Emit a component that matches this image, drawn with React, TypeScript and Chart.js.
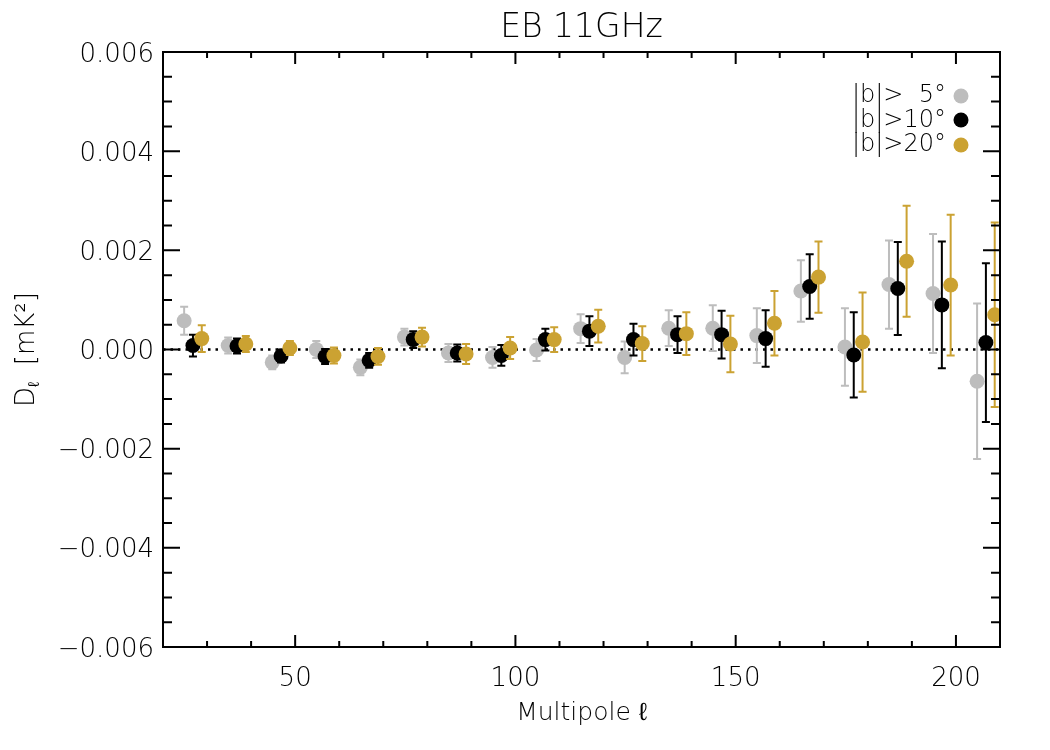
import { useEffect, useRef } from "react";
import { Chart, registerables } from "chart.js";

Chart.register(...registerables);

// multipole bin positions for each latitude cut (slightly offset within a bin)
const ellCut5 = [24.8, 34.8, 44.8, 54.8, 64.8, 74.8, 84.8, 94.8, 104.8, 114.8, 124.8, 134.8, 144.8, 154.8, 164.8, 174.8, 184.8, 194.8, 204.8];
const ellCut10 = [26.8, 36.8, 46.8, 56.8, 66.8, 76.8, 86.8, 96.8, 106.8, 116.8, 126.8, 136.8, 146.8, 156.8, 166.8, 176.8, 186.8, 196.8, 206.8];
const ellCut20 = [28.8, 38.8, 48.8, 58.8, 68.8, 78.8, 88.8, 98.8, 108.8, 118.8, 128.8, 138.8, 148.8, 158.8, 168.8, 178.8, 188.8, 198.8, 208.8];

// D_ell EB [mK^2]
const dCut5 = [0.00058, 0.00008, -0.00026, 0.0, -0.00036, 0.00025, -0.00007, -0.00016, -0.00001, 0.00042, -0.00016, 0.00043, 0.00043, 0.00028, 0.00118, 0.00005, 0.00131, 0.00113, -0.00064];
const errCut5 = [0.00028, 0.00016, 0.00014, 0.00017, 0.00016, 0.00017, 0.00018, 0.00021, 0.00022, 0.00029, 0.00032, 0.00036, 0.00046, 0.00055, 0.00062, 0.00078, 0.00089, 0.0012, 0.00157];

const dCut10 = [0.00008, 0.00007, -0.00013, -0.00014, -0.00022, 0.0002, -0.00007, -0.00012, 0.0002, 0.00037, 0.0002, 0.0003, 0.0003, 0.00022, 0.00127, -0.00011, 0.00123, 0.0009, 0.00014];
const errCut10 = [0.00022, 0.00015, 0.00013, 0.00015, 0.00015, 0.00017, 0.00017, 0.00021, 0.00022, 0.0003, 0.00032, 0.00037, 0.00048, 0.00057, 0.00065, 0.00086, 0.00094, 0.00128, 0.0016];

const dCut20 = [0.00022, 0.00011, 0.00003, -0.00012, -0.00014, 0.00025, -0.00009, 0.00003, 0.0002, 0.00047, 0.00012, 0.00032, 0.00011, 0.00053, 0.00146, 0.00015, 0.00178, 0.0013, 0.0007];
const errCut20 = [0.00027, 0.00016, 0.00014, 0.00016, 0.00017, 0.00019, 0.0002, 0.00022, 0.00025, 0.00033, 0.00035, 0.00043, 0.00057, 0.00065, 0.00072, 0.001, 0.00112, 0.00142, 0.00186];

const xTickValues = [50, 100, 150, 200];
const xTickLabels = ["50", "100", "150", "200"];
const yTickValues = [-0.006, -0.004, -0.002, 0, 0.002, 0.004, 0.006];
const yTickLabels = ["\u22120.006", "\u22120.004", "\u22120.002", "0.000", "0.002", "0.004", "0.006"];

const legendLabels = ["|b|>\u20075\u00b0", "|b|>10\u00b0", "|b|>20\u00b0"];

const GREY = "#bdbdbd";
const BLACK = "#000000";
const GOLD = "#cba232";
const FONT = '"DejaVu Sans", sans-serif';
const W = "200";

const series = [
  { ell: ellCut5, d: dCut5, err: errCut5, color: GREY, order: 3 },
  { ell: ellCut10, d: dCut10, err: errCut10, color: BLACK, order: 2 },
  { ell: ellCut20, d: dCut20, err: errCut20, color: GOLD, order: 1 },
];

const errorBars = {
  id: "errorBars",
  beforeDatasetDraw(chart: any, args: any) {
    const s = series[args.index];
    if (!s) return;
    const { ctx } = chart;
    const xs = chart.scales.x;
    const ys = chart.scales.y;
    ctx.save();
    ctx.strokeStyle = s.color;
    ctx.lineWidth = 2;
    s.ell.forEach((l, i) => {
      const px = xs.getPixelForValue(l);
      const top = ys.getPixelForValue(s.d[i] + s.err[i]);
      const bot = ys.getPixelForValue(s.d[i] - s.err[i]);
      ctx.beginPath();
      ctx.moveTo(px, top);
      ctx.lineTo(px, bot);
      ctx.moveTo(px - 4, top);
      ctx.lineTo(px + 4, top);
      ctx.moveTo(px - 4, bot);
      ctx.lineTo(px + 4, bot);
      ctx.stroke();
    });
    ctx.restore();
  },
  beforeDatasetsDraw(chart: any) {
    const { ctx, chartArea: a } = chart;
    const y0 = chart.scales.y.getPixelForValue(0);
    ctx.save();
    ctx.strokeStyle = "#000";
    ctx.lineWidth = 2.5;
    ctx.setLineDash([2.5, 5]);
    ctx.beginPath();
    ctx.moveTo(a.left, y0);
    ctx.lineTo(a.right, y0);
    ctx.stroke();
    ctx.restore();
  },
};

const frameAndText = {
  id: "frameAndText",
  afterDraw(chart: any) {
    const { ctx, chartArea: a } = chart;
    const xs = chart.scales.x;
    const ys = chart.scales.y;
    ctx.save();
    ctx.strokeStyle = "#000";
    ctx.fillStyle = "#000";
    ctx.lineWidth = 2;
    ctx.strokeRect(a.left, a.top, a.right - a.left, a.bottom - a.top);

    // inward ticks on all four sides
    ctx.beginPath();
    for (let l = 20; l <= 210; l += 10) {
      const px = xs.getPixelForValue(l);
      const len = l % 50 === 0 ? 12 : 6;
      ctx.moveTo(px, a.bottom);
      ctx.lineTo(px, a.bottom - len);
      ctx.moveTo(px, a.top);
      ctx.lineTo(px, a.top + len);
    }
    for (let k = -12; k <= 12; k++) {
      const py = ys.getPixelForValue(k * 0.0005);
      const len = k % 4 === 0 ? 17 : 9;
      ctx.moveTo(a.left, py);
      ctx.lineTo(a.left + len, py);
      ctx.moveTo(a.right, py);
      ctx.lineTo(a.right - len, py);
    }
    ctx.stroke();

    // tick labels
    ctx.font = `${W} 26px ${FONT}`;
    ctx.textBaseline = "alphabetic";
    ctx.textAlign = "center";
    xTickValues.forEach((v, i) => {
      ctx.fillText(xTickLabels[i], xs.getPixelForValue(v), 686);
    });
    ctx.textAlign = "right";
    yTickValues.forEach((v, i) => {
      ctx.fillText(yTickLabels[i], a.left - 9, ys.getPixelForValue(v) + 9.5);
    });

    // titles
    const cx = (a.left + a.right) / 2;
    ctx.textAlign = "center";
    ctx.font = `${W} 33px ${FONT}`;
    ctx.fillText("EB 11GHz", cx, 37);
    ctx.font = `${W} 25px ${FONT}`;
    ctx.fillText("Multipole \u2113", cx, 720);

    // y axis title: D_l [mK^2]
    ctx.save();
    ctx.translate(34, (a.top + a.bottom) / 2);
    ctx.rotate(-Math.PI / 2);
    ctx.textAlign = "left";
    const big = `${W} 26px ${FONT}`;
    const small = `${W} 16px ${FONT}`;
    ctx.font = big;
    const wD = ctx.measureText("D").width;
    const wRest = ctx.measureText("  [mK\u00b2]").width;
    ctx.font = small;
    const wL = ctx.measureText("\u2113").width;
    let x0 = -(wD + wL + wRest) / 2;
    ctx.font = big;
    ctx.fillText("D", x0, 0);
    x0 += wD;
    ctx.font = small;
    ctx.fillText("\u2113", x0, 5);
    x0 += wL;
    ctx.font = big;
    ctx.fillText("  [mK\u00b2]", x0, 0);
    ctx.restore();

    // legend
    const rows = [
      { base: 102, dotY: 96, color: GREY },
      { base: 127, dotY: 120, color: BLACK },
      { base: 151, dotY: 145, color: GOLD },
    ];
    ctx.font = `${W} 24px ${FONT}`;
    rows.forEach((r, i) => {
      ctx.textAlign = "right";
      ctx.fillStyle = "#000";
      ctx.fillText(legendLabels[i], 946, r.base);
      ctx.fillStyle = r.color;
      ctx.beginPath();
      ctx.arc(961, r.dotY, 7.5, 0, Math.PI * 2);
      ctx.fill();
    });
    ctx.restore();
  },
};

export default function App() {
  const ref = useRef<HTMLCanvasElement>(null);

  useEffect(() => {
    if (!ref.current) return;
    const chart = new Chart(ref.current, {
      type: "scatter",
      data: {
        datasets: series.map((s) => ({
          data: s.ell.map((l, i) => ({ x: l, y: s.d[i] })),
          backgroundColor: s.color,
          borderWidth: 0,
          pointRadius: 7.5,
          pointHoverRadius: 7.5,
          order: s.order,
        })),
      },
      options: {
        responsive: true,
        maintainAspectRatio: false,
        animation: false,
        events: [],
        layout: { padding: { left: 163, top: 52, right: 50, bottom: 103 } },
        plugins: { legend: { display: false }, tooltip: { enabled: false } },
        scales: {
          x: { type: "linear", min: 20, max: 210, display: false },
          y: { type: "linear", min: -0.006, max: 0.006, display: false },
        },
      },
      plugins: [errorBars, frameAndText],
    });
    return () => chart.destroy();
  }, []);

  return (
    <div style={{ position: "absolute", left: 0, top: 0, width: 1050, height: 750, background: "#fff" }}>
      <canvas ref={ref} role="img" aria-label="EB 11GHz power spectrum" />
    </div>
  );
}
